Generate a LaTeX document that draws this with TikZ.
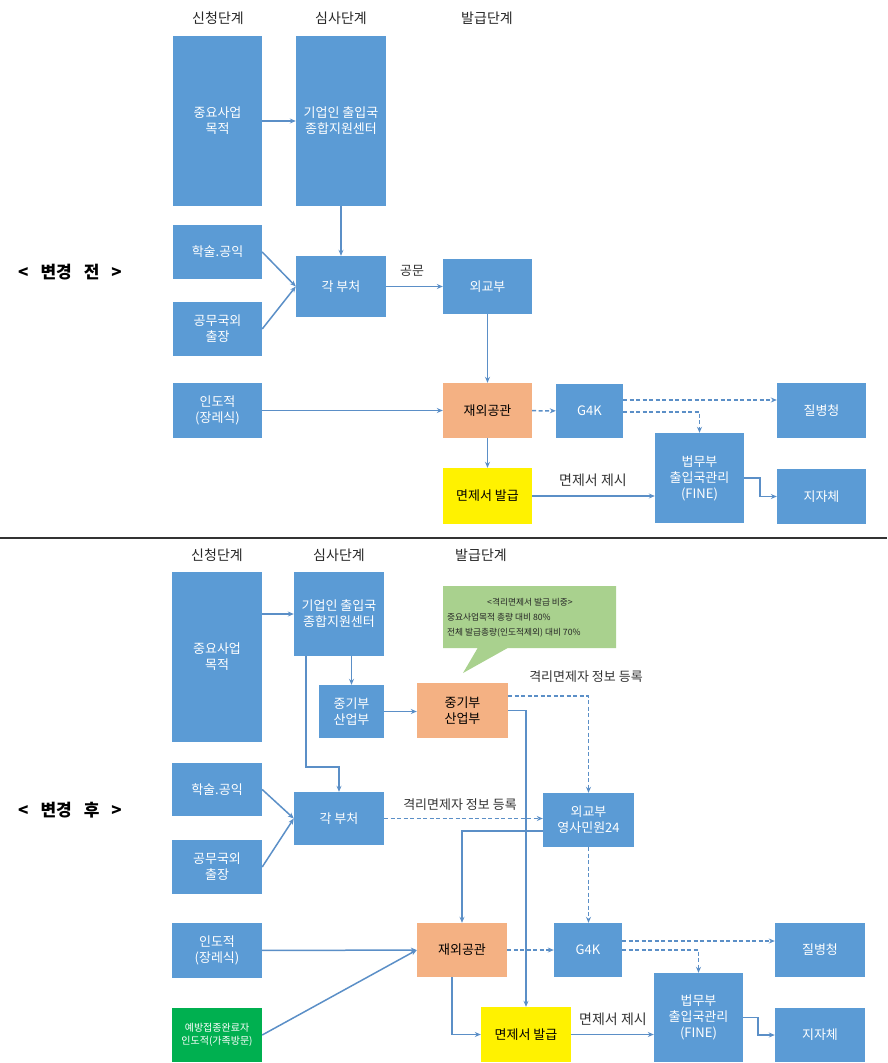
\documentclass[tikz,border=0pt]{standalone}
\usepackage{fontspec}
\setmainfont{Noto Sans CJK KR}
\usetikzlibrary{arrows.meta,shapes.callouts}
\definecolor{boxblue}{HTML}{5B9BD5}
\definecolor{boxorange}{HTML}{F4B183}
\definecolor{boxgreen}{HTML}{00B050}
\definecolor{calloutgreen}{HTML}{A9D18E}
\definecolor{linecol}{HTML}{5B8FC7}
\tikzset{
  box/.style={rectangle, fill=boxblue, text=white, inner sep=1pt, align=center, font=\fontsize{13}{16}\selectfont},
  obox/.style={box, fill=boxorange, text=black},
  ybox/.style={box, fill=yellow, text=black},
  gbox/.style={box, fill=boxgreen, font=\fontsize{10}{13}\selectfont},
  arr/.style={draw=linecol, line width=1.5pt, -{Stealth[length=6pt,width=5pt]}},
  darr/.style={arr, dash pattern=on 4pt off 2.5pt},
  lbl/.style={font=\fontsize{13}{15}\selectfont, text=black!80, inner sep=0pt},
  head/.style={font=\fontsize{14}{16}\selectfont, text=black!85, inner sep=0pt},
  side/.style={font=\bfseries\fontsize{17}{20}\selectfont, inner sep=0pt},
  ctext/.style={font=\fontsize{8.7}{10}\selectfont, text=black!85, inner sep=0pt},
}
\begin{document}
\begin{tikzpicture}[x=1pt,y=-1pt]
\useasboundingbox (0,0) rectangle (887,1063);
% ================= BEFORE =================
\node[head] (h1a) at (218,18) {신청단계};
\node[head] (h1b) at (341,18) {심사단계};
\node[head] (h1c) at (487,18) {발급단계};
\node[side] (side1) at (70,272) {<\hspace{12pt}변경\hspace{12pt}전\hspace{12pt}>};

\node[box, minimum width=89pt, minimum height=170pt] (jy1) at (217.5,121) {중요사업\\목적};
\node[box, minimum width=90pt, minimum height=170pt] (gc1) at (341,121) {기업인 출입국\\종합지원센터};
\node[box, minimum width=89pt, minimum height=54pt] (hs1) at (217.5,252) {학술.공익};
\node[box, minimum width=89pt, minimum height=54pt] (gm1) at (217.5,329) {공무국외\\출장};
\node[box, minimum width=90pt, minimum height=61pt] (gb1) at (341,286.5) {각 부처};
\node[box, minimum width=89pt, minimum height=55pt] (mofa1) at (487.5,286.5) {외교부};
\node[box, minimum width=89pt, minimum height=55pt] (ind1) at (217.5,410.5) {인도적\\(장레식)};
\node[obox, minimum width=89pt, minimum height=55pt] (emb1) at (487.5,410.5) {재외공관};
\node[box, minimum width=67pt, minimum height=54pt] (g4k1) at (589.5,411) {G4K};
\node[box, minimum width=89pt, minimum height=55pt] (kdca1) at (821.5,410.5) {질병청};
\node[box, minimum width=89pt, minimum height=90pt] (moj1) at (699.5,478) {법무부\\출입국관리\\(FINE)};
\node[ybox, minimum width=89pt, minimum height=56pt] (cert1) at (487.5,496) {면제서 발급};
\node[box, minimum width=89pt, minimum height=55pt] (loc1) at (821.5,496.5) {지자체};

\node[lbl] (l1) at (412,271) {공문};
\node[lbl, font=\fontsize{14}{16}\selectfont] (l2) at (593,480) {면제서 제시};

\draw[arr] (jy1) -- (gc1);
\draw[arr] (gc1) -- (gb1);
\draw[arr] (hs1.east) -- (gb1.west);
\draw[arr] (gm1.east) -- (gb1.west);
\draw[arr] (gb1) -- (mofa1);
\draw[arr] (mofa1) -- (emb1);
\draw[arr] (ind1) -- (emb1);
\draw[darr] (emb1) -- (g4k1);
\draw[darr] ([yshift=11pt]g4k1.east) -- ([yshift=10.5pt]kdca1.west);
\draw[darr] ([yshift=-1pt]g4k1.east) -| (moj1.north);
\draw[arr] (moj1.east) -- ++(16,0) |- (loc1.west);
\draw[arr] (cert1.east) -- (cert1.east -| moj1.west);
\draw[arr] (emb1) -- (cert1);

\draw[black!80, line width=1.5pt] (0,538) -- (887,538);

% ================= AFTER =================
\node[head] (h2a) at (217,555) {신청단계};
\node[head] (h2b) at (339,555) {심사단계};
\node[head] (h2c) at (481,555) {발급단계};
\node[side] (side2) at (70,810) {<\hspace{12pt}변경\hspace{12pt}후\hspace{12pt}>};

\node[box, minimum width=90pt, minimum height=170pt] (jy2) at (217,657) {중요사업\\목적};
\node[box, minimum width=90pt, minimum height=84pt] (gc2) at (339,614) {기업인 출입국\\종합지원센터};
\node[box, minimum width=65pt, minimum height=53pt] (smb2) at (351.5,711.5) {중기부\\산업부};
\node[box, minimum width=90pt, minimum height=53pt] (hs2) at (217,789.5) {학술.공익};
\node[box, minimum width=90pt, minimum height=54pt] (gm2) at (217,867) {공무국외\\출장};
\node[box, minimum width=90pt, minimum height=53pt] (gb2) at (339,818.5) {각 부처};
\node[obox, minimum width=91pt, minimum height=55pt] (smb3) at (462.5,710.5) {중기부\\산업부};
\node[box, minimum width=91pt, minimum height=54pt] (mofa2) at (588.5,820) {외교부\\영사민원24};
\node[box, minimum width=90pt, minimum height=55pt] (ind2) at (217,950.5) {인도적\\(장레식)};
\node[obox, minimum width=90pt, minimum height=54pt] (emb2) at (462,950) {재외공관};
\node[box, minimum width=68pt, minimum height=54pt] (g4k2) at (588,950) {G4K};
\node[box, minimum width=90pt, minimum height=54pt] (kdca2) at (820,950) {질병청};
\node[box, minimum width=89pt, minimum height=89pt] (moj2) at (698.5,1017.5) {법무부\\출입국관리\\(FINE)};
\node[gbox, minimum width=90pt, minimum height=54pt] (grn2) at (217,1035) {예방접종완료자\\인도적(가족방문)};
\node[ybox, minimum width=90pt, minimum height=55pt] (cert2) at (526,1034.5) {면제서 발급};
\node[box, minimum width=90pt, minimum height=54pt] (loc2) at (820,1035) {지자체};

\node[rectangle callout, fill=calloutgreen, minimum width=173pt, minimum height=62pt,
      callout absolute pointer={(463,673)}, callout pointer width=30pt] (call) at (529.5,617) {};
\node[ctext] (c1) at (530,602) {<격리면제서 발급 비중>};
\node[ctext, anchor=west] (c2) at (447,617) {중요사업목적 총량 대비 80\%};
\node[ctext, anchor=west] (c3) at (447,633) {전체 발급총량(인도적제외) 대비 70\%};

\node[lbl] (l3) at (586,677) {격리면제자 정보 등록};
\node[lbl] (l4) at (460,805) {격리면제자 정보 등록};
\node[lbl, font=\fontsize{14}{16}\selectfont] (l5) at (613,1019) {면제서 제시};

\draw[arr] (jy2.east |- gc2.west) -- (gc2.west);
\draw[arr] (gc2.south -| smb2.north) -- (smb2.north);
\draw[arr] ([xshift=-33pt]gc2.south) -- ++(0,111) -| (gb2.north);
\draw[arr] (smb2.east) -- (smb2.east -| smb3.west);
\draw[arr] (hs2.east) -- (gb2.west);
\draw[arr] (gm2.east) -- (gb2.west);
\draw[darr] ([yshift=14.5pt]smb3.east) -| (mofa2.north);
\draw[arr] (smb3.east) -| (cert2.north);
\draw[darr] (gb2.east) -- (gb2.east -| mofa2.west);
\draw[arr] ([yshift=-11pt]mofa2.west) -| (emb2.north);
\draw[darr] (mofa2.south) -- (mofa2.south |- g4k2.north);
\draw[arr] (ind2) -- (emb2);
\draw[arr] (grn2.east) -- (emb2.west);
\draw[darr] (emb2) -- (g4k2);
\draw[darr] ([yshift=9pt]g4k2.east) -- ([yshift=9pt]kdca2.west);
\draw[darr] (g4k2.east) -| (moj2.north);
\draw[arr] ([xshift=-10pt]emb2.south) |- (cert2.west);
\draw[arr] (cert2.east) -- (cert2.east -| moj2.west);
\draw[arr] (moj2.east) -- ++(15,0) |- (loc2.west);
\end{tikzpicture}
\end{document}
